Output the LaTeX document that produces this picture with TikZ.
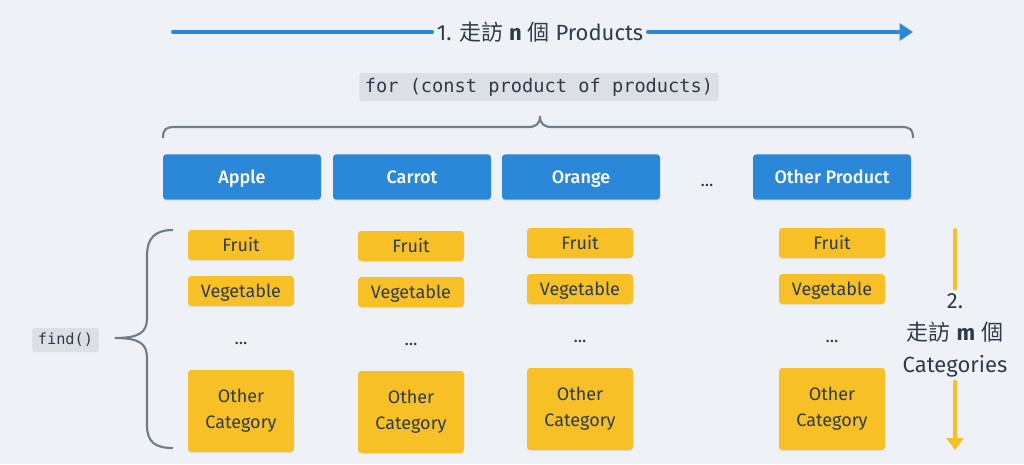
\documentclass[tikz,border=0pt]{standalone}
\usepackage{fontspec}
\setmainfont{Fira Sans}[BoldFont=* Bold]
\newfontfamily\medfont{Fira Sans}[UprightFont=* Medium]
\setmonofont{DejaVu Sans Mono}
\newfontfamily\cjk{Noto Sans CJK TC}
\usetikzlibrary{arrows.meta,shadows}

\definecolor{bgpaper}{HTML}{EEF2F6}
\definecolor{prodblue}{HTML}{2B88D8}
\definecolor{catyellow}{HTML}{F6C026}
\definecolor{inkdark}{HTML}{2E3B4A}
\definecolor{bracegray}{HTML}{6F7E8C}
\definecolor{codegray}{HTML}{DCE0E4}

\begin{document}
\begin{tikzpicture}[
    x=0.75pt, y=-0.75pt,
    prodnode/.style={fill=prodblue, text=white, rounded corners=2.5pt, minimum width=118.5pt, minimum height=34pt, text height=12.3pt, text depth=3pt, font=\medfont\fontsize{13.5}{16}\selectfont, drop shadow={opacity=0.12, shadow xshift=0pt, shadow yshift=-1pt}},
    catbox/.style={fill=catyellow, text=inkdark, rounded corners=2.5pt, minimum width=79.5pt, font=\fontsize{13.5}{19.5}\selectfont, drop shadow={opacity=0.12, shadow xshift=0pt, shadow yshift=-1pt}},
    catnode/.style={catbox, minimum height=22.5pt, text height=12.3pt, text depth=3pt},
    bigcat/.style={catbox, minimum height=61.5pt, align=center},
    codenode/.style={fill=codegray, text=inkdark, rounded corners=1.5pt, inner xsep=4pt},
    dotsnode/.style={text=inkdark, font=\fontsize{13.5}{16}\selectfont},
    labelnode/.style={text=inkdark, font=\fontsize{16.5}{24}\selectfont, align=center},
    stepline/.style={prodblue, line width=3pt, line cap=round},
    catline/.style={catyellow, line width=3pt, line cap=round},
    bracepath/.style={bracegray, line width=1.6pt}
]
% Canvas
\fill[bgpaper] (0,0) rectangle (1024,464);
\useasboundingbox (0,0) rectangle (1024,464);

% 1. loop over the products
\node[labelnode] (step1) at (540,32) {1. {\cjk 走訪} \textbf{n} {\cjk 個} Products};
\coordinate (n0) at (173,32);
\coordinate (n1) at (913,32);
\draw[stepline] (n0) -- (step1.west);
\draw[stepline, -{Triangle[length=10pt, width=12.5pt]}] (step1.east) -- (n1);

\node[codenode, font=\ttfamily\fontsize{14}{16}\selectfont, minimum height=21pt] (forloop) at (539,87) {for (const product of products)};

% Brace over the products
\draw[bracepath] (163,138) .. controls (163,129) and (166,127) .. (175,127) -- (528,127)
    .. controls (536,127) and (540,124) .. (540,116)
    .. controls (540,124) and (544,127) .. (552,127) -- (901,127)
    .. controls (910,127) and (913,129) .. (913,138);

% Products
\foreach \x/\name/\lbl in {242/apple/Apple, 412/carrot/Carrot, 581/orange/Orange, 832/otherprod/Other Product} {
    \node[prodnode] (\name) at (\x,177) {\lbl};
}
\node[dotsnode] (pdots) at (707,185) {...};

% Categories of each product
\foreach \x/\y/\c in {241/245/a, 411/246/b, 580/243/c, 832/243/d} {
    \node[catnode] (fruit\c) at (\x,\y) {Fruit};
    \node[catnode] (veg\c) at (\x,\y+46) {Vegetable};
    \node[dotsnode] (cdots\c) at (\x,\y+98) {...};
    \node[bigcat] (othercat\c) at (\x,\y+166) {Other\\Category};
}

% find() over the categories
\node[codenode, font=\ttfamily\fontsize{11.5}{14}\selectfont, minimum height=18pt] (find) at (65.5,340) {find()};
\draw[bracepath] (173,230) .. controls (155,230) and (147,238) .. (147,256) -- (147,318)
    .. controls (147,332) and (140,338) .. (115,338)
    .. controls (140,338) and (147,344) .. (147,358) -- (147,425)
    .. controls (147,442) and (155,448) .. (173,448);

% 2. loop over the categories
\node[labelnode] (step2) at (955,335) {2.\\{\cjk 走訪} \textbf{m} {\cjk 個}\\Categories};
\coordinate (m0) at (955,230);
\coordinate (m1) at (955,450);
\draw[catline] (m0) -- (step2.north);
\draw[catline, -{Triangle[length=9pt, width=12.5pt]}] (step2.south) -- (m1);

\end{tikzpicture}
\end{document}
